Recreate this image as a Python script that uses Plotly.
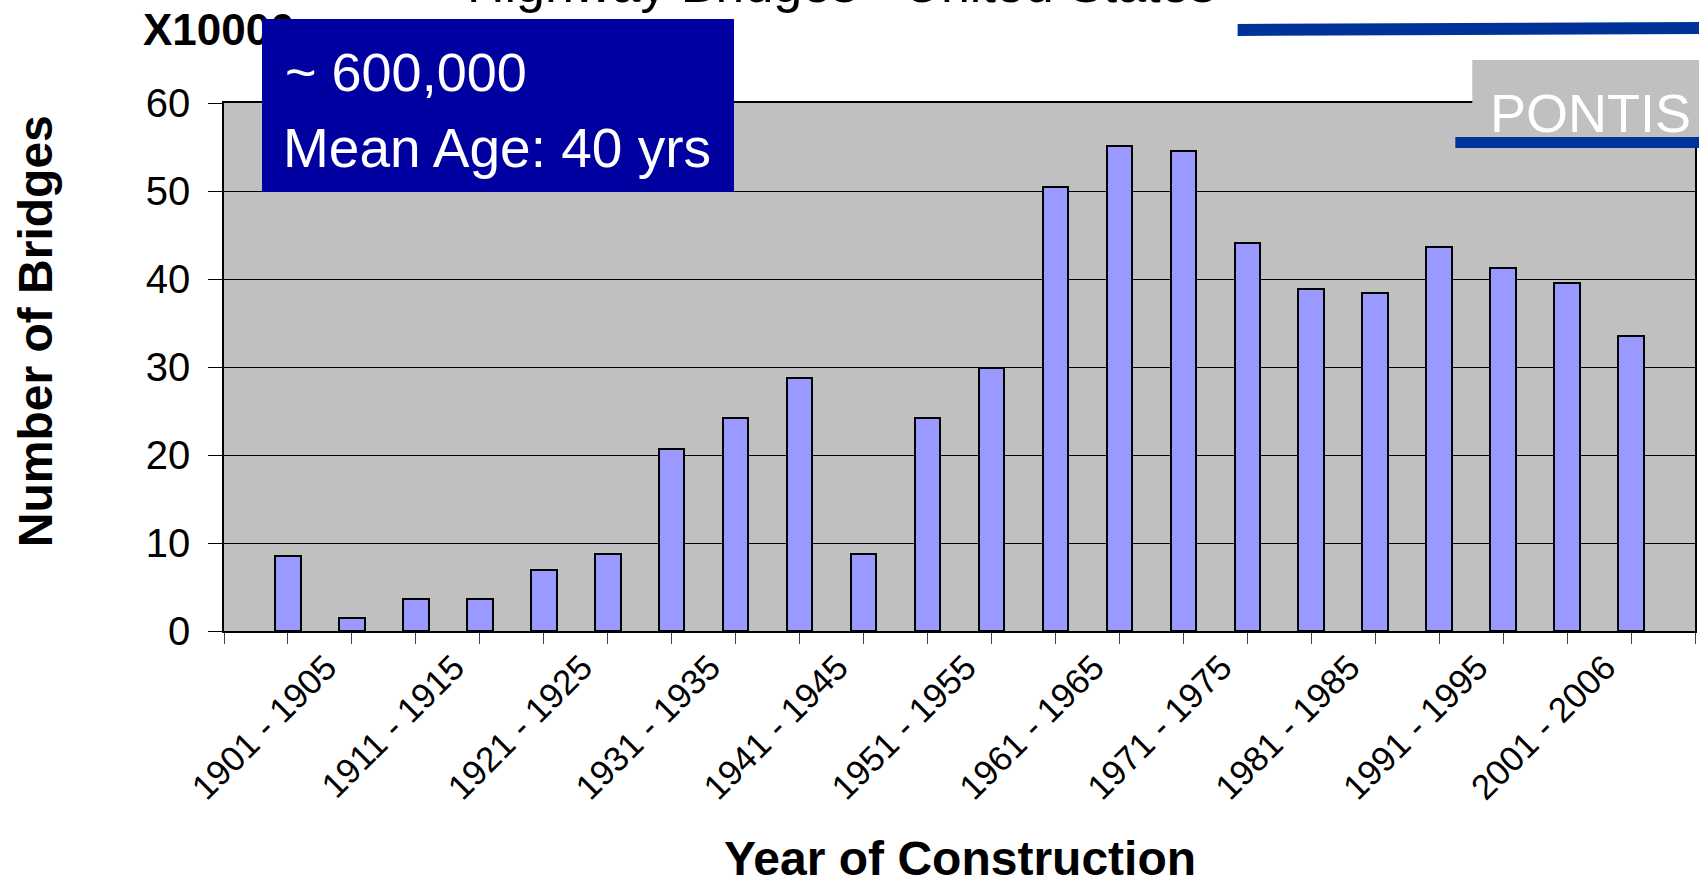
import plotly.graph_objects as go

# ---- data (x 10000 bridges) ----
categories = ["1896 - 1900", "1901 - 1905", "1906 - 1910", "1911 - 1915", "1916 - 1920",
              "1921 - 1925", "1926 - 1930", "1931 - 1935", "1936 - 1940", "1941 - 1945",
              "1946 - 1950", "1951 - 1955", "1956 - 1960", "1961 - 1965", "1966 - 1970",
              "1971 - 1975", "1976 - 1980", "1981 - 1985", "1986 - 1990", "1991 - 1995",
              "1996 - 2000", "2001 - 2006"]
bridges = [8.5, 1.5, 3.6, 3.6, 6.9, 8.8, 20.7, 24.2, 28.8, 8.8, 24.2, 29.9,
           50.4, 55.1, 54.6, 44.1, 38.9, 38.4, 43.6, 41.2, 39.5, 33.5]
y_ticks = [0, 10, 20, 30, 40, 50, 60]

W, H = 1701, 884
L, R, T, B = 224, 1697, 103, 631
PW, PH = R - L, B - T

def px(x):
    return (x - L) / PW

def py(y):
    return (B - y) / PH

FONT = "Liberation Sans, Arial, sans-serif"

xpos = list(range(1, len(categories) + 1))
label_idx = [i for i in range(len(categories)) if i % 2 == 1]
label_shift = 0.4

fig = go.Figure()
fig.add_trace(go.Bar(
    x=xpos, y=bridges, width=0.4,
    marker=dict(color="#9999FF", line=dict(color="black", width=2)),
    hovertext=categories, hoverinfo="text+y", textposition="none", showlegend=False,
))

fig.update_layout(
    width=W, height=H,
    margin=dict(l=L, r=W - R, t=T, b=H - B),
    paper_bgcolor="white", plot_bgcolor="#C0C0C0",
    font=dict(family=FONT, color="black"),
    bargap=0,
    xaxis=dict(
        range=[0, len(categories) + 1],
        tickmode="array",
        tickvals=[xpos[i] - label_shift for i in label_idx],
        ticktext=[categories[i] for i in label_idx],
        tickangle=-45,
        tickfont=dict(size=35, family=FONT),
        ticks="", ticklen=11,
        showgrid=False, zeroline=False,
        showline=True, linecolor="black", linewidth=1.5, mirror=True,
        minor=dict(tickmode="array", tickvals=list(range(0, len(categories) + 2)),
                   ticks="outside", ticklen=11, tickcolor="#404040", tickwidth=1),
    ),
    yaxis=dict(
        range=[0, 60], tickmode="array", tickvals=y_ticks,
        ticks="outside", ticklen=14, tickcolor="black", tickwidth=1,
        tickfont=dict(size=40, family=FONT),
        ticklabelstandoff=10,
        showgrid=True, gridcolor="black", gridwidth=1,
        zeroline=False,
        showline=True, linecolor="black", linewidth=1.5, mirror=True,
    ),
)

shapes = []
# PONTIS grey box + blue lines
shapes.append(dict(type="rect", xref="paper", yref="paper", layer="above",
                   x0=px(1474), x1=px(1701), y0=py(137), y1=py(60),
                   fillcolor="#C0C0C0", line=dict(width=0)))
shapes.append(dict(type="rect", xref="paper", yref="paper", layer="above",
                   x0=px(1457), x1=px(1701), y0=py(148), y1=py(137),
                   fillcolor="#003399", line=dict(width=0)))
p = [(1239, 24), (1701, 22), (1701, 34), (1239, 36)]
path = "M " + " L ".join(f"{px(a)},{py(b)}" for a, b in p) + " Z"
shapes.append(dict(type="path", xref="paper", yref="paper", layer="above",
                   path=path, fillcolor="#003399", line=dict(width=0)))
fig.update_layout(shapes=shapes)

ann = []
# title (mostly cut off at top)
ann.append(dict(text="Highway Bridges - United States", xref="paper", yref="paper",
                x=px(842), y=py(2 - 0.35 * 52), xanchor="center", yanchor="middle",
                showarrow=False, font=dict(size=52, family=FONT, color="black")))
# X10000
ann.append(dict(text="<b>X10000</b>", xref="paper", yref="paper",
                x=px(141), y=py(45 - 0.35 * 44), xanchor="left", yanchor="middle",
                showarrow=False, font=dict(size=44, family=FONT, color="black")))
# blue info box (drawn over X10000)
ann.append(dict(text=" ", xref="paper", yref="paper",
                x=px(262.5), y=py(19.5), xanchor="left", yanchor="top",
                width=472, height=173, bgcolor="#0000A0", borderpad=0, borderwidth=0,
                showarrow=False, font=dict(size=10)))
ann.append(dict(text="~ 600,000", xref="paper", yref="paper",
                x=px(283), y=py(91 - 0.35 * 54), xanchor="left", yanchor="middle",
                showarrow=False, font=dict(size=54, family=FONT, color="white")))
ann.append(dict(text="Mean Age: 40 yrs", xref="paper", yref="paper",
                x=px(281), y=py(167 - 0.35 * 55), xanchor="left", yanchor="middle",
                showarrow=False, font=dict(size=55, family=FONT, color="white")))
# PONTIS
ann.append(dict(text="PONTIS", xref="paper", yref="paper",
                x=px(1592), y=py(132 - 0.35 * 54), xanchor="center", yanchor="middle",
                showarrow=False, font=dict(size=54, family=FONT, color="white")))
# axis titles
ann.append(dict(text="<b>Number of Bridges</b>", xref="paper", yref="paper",
                x=px(35), y=py(331), xanchor="center", yanchor="middle", textangle=-90,
                showarrow=False, font=dict(size=48, family=FONT, color="black")))
ann.append(dict(text="<b>Year of Construction</b>", xref="paper", yref="paper",
                x=px(961), y=py(875 - 0.35 * 48), xanchor="center", yanchor="middle",
                showarrow=False, font=dict(size=48, family=FONT, color="black")))
fig.update_layout(annotations=ann)

fig.write_html("out.html", config={"displayModeBar": False},
               post_script="document.body.style.margin='0';document.body.style.overflow='hidden';")
